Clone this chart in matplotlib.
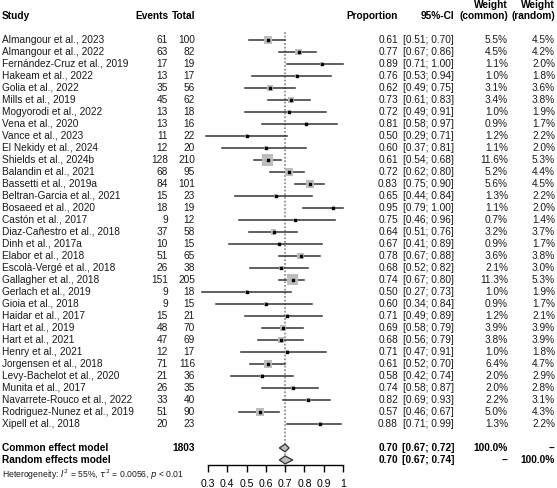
import numpy as np
import matplotlib.pyplot as plt
from matplotlib.transforms import blended_transform_factory
from matplotlib.patches import Polygon

plt.rcParams['font.family'] = ['Liberation Sans', 'DejaVu Sans']

# datos
studies = ['Almangour et al., 2023', 'Almangour et al., 2022', 'Fernández-Cruz et al., 2019',
           'Hakeam et al., 2022', 'Golia et al., 2022', 'Mills et al., 2019',
           'Mogyorodi et al., 2022', 'Vena et al., 2020', 'Vance et al., 2023',
           'El Nekidy et al., 2024', 'Shields et al., 2024b', 'Balandin et al., 2021',
           'Bassetti et al., 2019a', 'Beltran-Garcia et al., 2021', 'Bosaeed et al., 2020',
           'Castón et al., 2017', 'Diaz-Cañestro et al., 2018', 'Dinh et al., 2017a',
           'Elabor et al., 2018', 'Escolà-Vergé et al., 2018', 'Gallagher et al., 2018',
           'Gerlach et al., 2019', 'Gioia et al., 2018', 'Haidar et al., 2017',
           'Hart et al., 2019', 'Hart et al., 2021', 'Henry et al., 2021',
           'Jorgensen et al., 2018', 'Levy-Bachelot et al., 2020', 'Munita et al., 2017',
           'Navarrete-Rouco et al., 2022', 'Rodriguez-Nunez et al., 2019', 'Xipell et al., 2018']
events = [61, 63, 17, 13, 35, 45, 13, 13, 11, 12, 128, 68, 84, 15, 18, 9, 37, 10, 51, 26,
          151, 9, 9, 15, 48, 47, 12, 71, 21, 26, 33, 51, 20]
totals = [100, 82, 19, 17, 56, 62, 18, 16, 22, 20, 210, 95, 101, 23, 19, 12, 58, 15, 65, 38,
          205, 18, 15, 21, 70, 69, 17, 116, 36, 35, 40, 90, 23]
prop = [0.61, 0.77, 0.89, 0.76, 0.62, 0.73, 0.72, 0.81, 0.50, 0.60, 0.61, 0.72, 0.83, 0.65,
        0.95, 0.75, 0.64, 0.67, 0.78, 0.68, 0.74, 0.50, 0.60, 0.71, 0.69, 0.68, 0.71, 0.61,
        0.58, 0.74, 0.82, 0.57, 0.88]
ci_lo = [0.51, 0.67, 0.71, 0.53, 0.49, 0.61, 0.49, 0.58, 0.29, 0.37, 0.54, 0.62, 0.75, 0.44,
         0.79, 0.46, 0.51, 0.41, 0.67, 0.52, 0.67, 0.27, 0.34, 0.49, 0.58, 0.56, 0.47, 0.52,
         0.42, 0.58, 0.69, 0.46, 0.71]
ci_hi = [0.70, 0.86, 1.00, 0.94, 0.75, 0.83, 0.91, 0.97, 0.71, 0.81, 0.68, 0.80, 0.90, 0.84,
         1.00, 0.96, 0.76, 0.89, 0.88, 0.82, 0.80, 0.73, 0.84, 0.89, 0.79, 0.79, 0.91, 0.70,
         0.74, 0.87, 0.93, 0.67, 0.99]
w_common = [5.5, 4.5, 1.1, 1.0, 3.1, 3.4, 1.0, 0.9, 1.2, 1.1, 11.6, 5.2, 5.6, 1.3, 1.1, 0.7,
            3.2, 0.9, 3.6, 2.1, 11.3, 1.0, 0.9, 1.2, 3.9, 3.8, 1.0, 6.4, 2.0, 2.0, 2.2, 5.0, 1.3]
w_random = [4.5, 4.2, 2.0, 1.8, 3.6, 3.8, 1.9, 1.7, 2.2, 2.0, 5.3, 4.4, 4.5, 2.2, 2.0, 1.4,
            3.7, 1.7, 3.8, 3.0, 5.3, 1.9, 1.7, 2.1, 3.9, 3.9, 1.8, 4.7, 2.9, 2.8, 3.1, 4.3, 2.2]

total_n = 1803
common = [0.70, 0.67, 0.72]
random_ = [0.70, 0.67, 0.74]
xticks = [0.3, 0.4, 0.5, 0.6, 0.7, 0.8, 0.9, 1.0]
xticklabels = ['0.3', '0.4', '0.5', '0.6', '0.7', '0.8', '0.9', '1']

W, H = 557, 488
fig = plt.figure(figsize=(W / 100, H / 100), dpi=100)
# eje del forest: 0.3 -> px 208, 1.0 -> px 343, base en px 465
ax = fig.add_axes([208 / W, (H - 465) / H, (343 - 208) / W, 465 / H])
n = len(studies)
y = np.arange(n)
ax.set_xlim(0.3, 1.0)
ax.set_ylim(35.42, -3.33)

for s in ['top', 'right', 'left']:
    ax.spines[s].set_visible(False)
ax.spines['bottom'].set_linewidth(1.0)
ax.set_yticks([])
ax.set_xticks(xticks)
ax.set_xticklabels(xticklabels, fontsize=7.6)
ax.tick_params(axis='x', length=5, width=1, pad=5)

# linea de referencia
ax.plot([common[0], common[0]], [-0.7, 35.3], ls=(0, (1.2, 1.2)), c='gray', lw=1.1, zorder=1)

# intervalos y cuadrados
for i in range(n):
    ax.plot([ci_lo[i], ci_hi[i]], [y[i], y[i]], c='#333333', lw=1.1, clip_on=False, zorder=2)
ax.scatter(prop, y, s=np.array(w_common) * 5.5, marker='s', c='#bdbdbd', zorder=3, clip_on=False, linewidths=0)
ax.scatter(prop, y, s=3, marker='s', c='black', zorder=4, clip_on=False)

# diamantes
for row, (m, lo, hi) in zip([34, 35], [common, random_]):
    d = Polygon([[lo, row], [m, row - 0.33], [hi, row], [m, row + 0.33]], closed=True,
                facecolor='#bdbdbd', edgecolor='#333333', lw=0.9, zorder=3, clip_on=False)
    ax.add_patch(d)

# textos
tr = blended_transform_factory(fig.transFigure, ax.transData)
fs = 7.3
def px(x):
    return x / W

hdr = dict(fontsize=fs, fontweight='bold', transform=tr, va='center')
ax.text(px(2), -2, 'Study', ha='left', **hdr)
ax.text(px(168), -2, 'Events', ha='right', **hdr)
ax.text(px(195), -2, 'Total', ha='right', **hdr)
ax.text(px(398), -2, 'Proportion', ha='right', **hdr)
ax.text(px(454), -2, '95%-CI', ha='right', **hdr)
ax.text(px(508), -2.92, 'Weight', ha='right', **hdr)
ax.text(px(508), -2, '(common)', ha='right', **hdr)
ax.text(px(555), -2.92, 'Weight', ha='right', **hdr)
ax.text(px(555), -2, '(random)', ha='right', **hdr)

txt = dict(fontsize=fs, transform=tr, va='center', color='#1a1a1a')
for i in range(n):
    ax.text(px(2), y[i], studies[i], ha='left', **txt)
    ax.text(px(168), y[i], str(events[i]), ha='right', **txt)
    ax.text(px(195), y[i], str(totals[i]), ha='right', **txt)
    ax.text(px(398), y[i], '%.2f' % prop[i], ha='right', **txt)
    ax.text(px(454), y[i], '[%.2f; %.2f]' % (ci_lo[i], ci_hi[i]), ha='right', **txt)
    ax.text(px(508), y[i], '%.1f%%' % w_common[i], ha='right', **txt)
    ax.text(px(555), y[i], '%.1f%%' % w_random[i], ha='right', **txt)

for row, label, m, wc, wr, tot in [(34, 'Common effect model', common, '100.0%', '--', str(total_n)),
                                   (35, 'Random effects model', random_, '--', '100.0%', '')]:
    ax.text(px(2), row, label, ha='left', **hdr)
    ax.text(px(195), row, tot, ha='right', **hdr)
    ax.text(px(398), row, '%.2f' % m[0], ha='right', **hdr)
    ax.text(px(454), row, '[%.2f; %.2f]' % (m[1], m[2]), ha='right', **hdr)
    ax.text(px(508), row, wc, ha='right', **hdr)
    ax.text(px(555), row, wr, ha='right', **hdr)

ax.text(px(2), 36.2, r'Heterogeneity: $I^2$ = 55%, $\tau^2$ = 0.0056, $p$ < 0.01',
        ha='left', fontsize=6.2, transform=tr, va='center', color='#1a1a1a')

fig.savefig('out.png', dpi=100)
